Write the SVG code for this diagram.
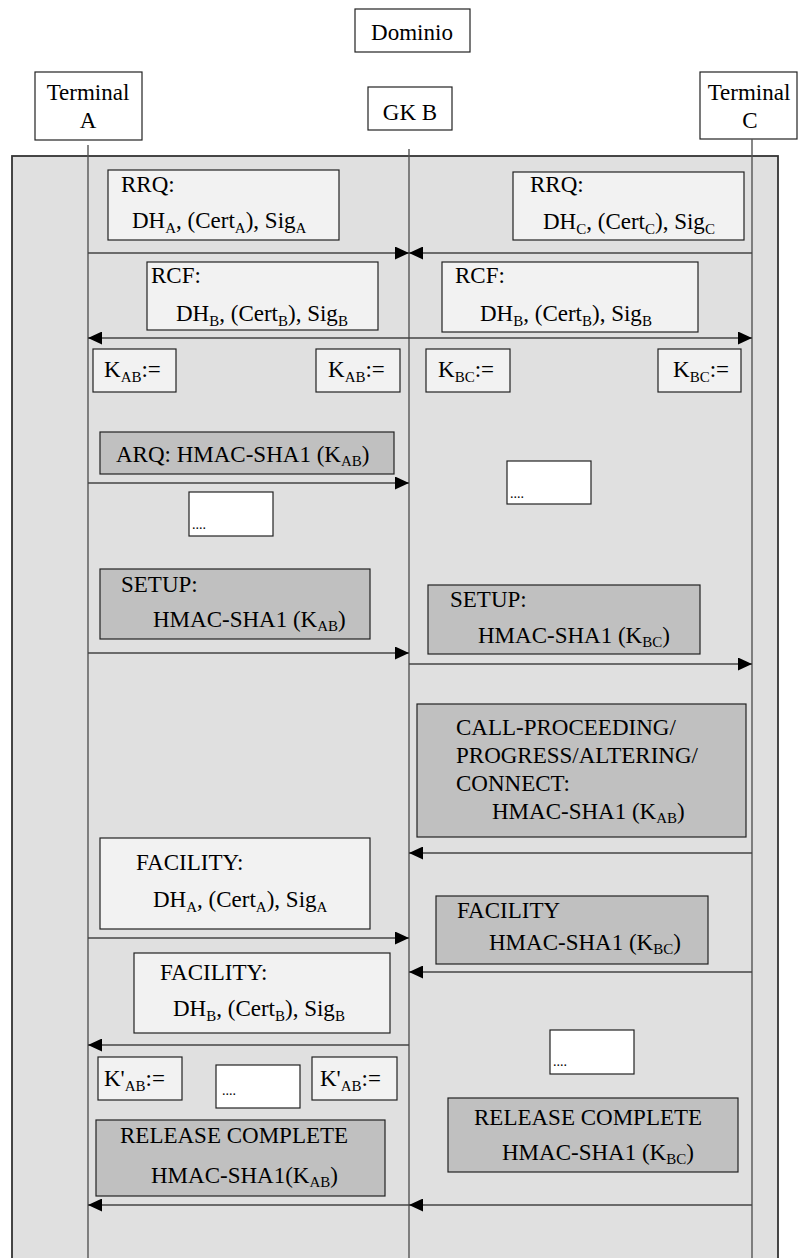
<svg xmlns="http://www.w3.org/2000/svg" width="798" height="1258" viewBox="0 0 798 1258" font-family="'Liberation Serif', Tinos, 'Times New Roman', 'DejaVu Serif', serif">
<style>
text{font-family:'Liberation Serif',Tinos,'Times New Roman','DejaVu Serif',serif;font-size:23px;fill:#000}
.s{font-size:15px}
.d{font-size:14px}
.c{text-anchor:middle}
.hdr{fill:#fff;stroke:#222;stroke-width:1.2}
.lt{fill:#f2f2f2;stroke:#222;stroke-width:1.2}
.dk{fill:#c0c0c0;stroke:#222;stroke-width:1.2}
.wh{fill:#fff;stroke:#222;stroke-width:1.2}
.life{stroke:#555;stroke-width:1.4;fill:none}
.msg{stroke:#444;stroke-width:1.4;fill:none;marker-end:url(#ah)}
</style>
<defs>
<marker id="ah" markerUnits="userSpaceOnUse" markerWidth="14" markerHeight="13" refX="14" refY="6.5" orient="auto">
<path d="M0,0 L14,6.5 L0,13 z" fill="#000"/>
</marker>
</defs>

<rect id="panel" x="12" y="156" width="766" height="1120" fill="#e0e0e0" stroke="#333" stroke-width="1.8"/>

<g id="dominio"><rect class="hdr" x="355" y="9" width="115" height="43"/><text class="c" x="412" y="40">Dominio</text></g>
<g id="terminalA"><rect class="hdr" x="35" y="72" width="107" height="68"/><text class="c" x="88" y="100">Terminal</text><text class="c" x="88" y="128">A</text></g>
<g id="gkB"><rect class="hdr" x="368" y="87" width="84" height="43"/><text class="c" x="410" y="120">GK B</text></g>
<g id="terminalC"><rect class="hdr" x="700" y="72" width="97" height="67"/><text class="c" x="749" y="100">Terminal</text><text class="c" x="750" y="128">C</text></g>

<g id="lifelines">
<line class="life" x1="88" y1="145" x2="88" y2="1258"/>
<line class="life" x1="409" y1="149" x2="409" y2="1258"/>
<line class="life" x1="752" y1="139" x2="752" y2="1258"/>
</g>

<g id="rrqA"><rect class="lt" x="108" y="170" width="231" height="70"/><text x="121" y="192">RRQ:</text><text x="132" y="228">DH<tspan class="s" dy="5">A</tspan><tspan dy="-5">, (Cert</tspan><tspan class="s" dy="5">A</tspan><tspan dy="-5">), Sig</tspan><tspan class="s" dy="5">A</tspan></text></g>
<g id="rrqC"><rect class="lt" x="513" y="172" width="231" height="68"/><text x="530" y="192">RRQ:</text><text x="543" y="229">DH<tspan class="s" dy="5">C</tspan><tspan dy="-5">, (Cert</tspan><tspan class="s" dy="5">C</tspan><tspan dy="-5">), Sig</tspan><tspan class="s" dy="5">C</tspan></text></g>
<g id="rcfA"><rect class="lt" x="147" y="262" width="231" height="68"/><text x="151" y="283">RCF:</text><text x="176" y="321">DH<tspan class="s" dy="5">B</tspan><tspan dy="-5">, (Cert</tspan><tspan class="s" dy="5">B</tspan><tspan dy="-5">), Sig</tspan><tspan class="s" dy="5">B</tspan></text></g>
<g id="rcfC"><rect class="lt" x="442" y="262" width="256" height="70"/><text x="455" y="283">RCF:</text><text x="480" y="321">DH<tspan class="s" dy="5">B</tspan><tspan dy="-5">, (Cert</tspan><tspan class="s" dy="5">B</tspan><tspan dy="-5">), Sig</tspan><tspan class="s" dy="5">B</tspan></text></g>

<g id="kab1"><rect class="lt" x="93" y="349" width="83" height="43"/><text x="104" y="377">K<tspan class="s" dy="5">AB</tspan><tspan dy="-5">:=</tspan></text></g>
<g id="kab2"><rect class="lt" x="316" y="349" width="84" height="43"/><text x="328" y="377">K<tspan class="s" dy="5">AB</tspan><tspan dy="-5">:=</tspan></text></g>
<g id="kbc1"><rect class="lt" x="426" y="349" width="84" height="43"/><text x="438" y="377">K<tspan class="s" dy="5">BC</tspan><tspan dy="-5">:=</tspan></text></g>
<g id="kbc2"><rect class="lt" x="658" y="349" width="83" height="43"/><text x="673" y="377">K<tspan class="s" dy="5">BC</tspan><tspan dy="-5">:=</tspan></text></g>

<g id="arq"><rect class="dk" x="100" y="432" width="294" height="42"/><text x="116" y="462">ARQ: HMAC-SHA1 (K<tspan class="s" dy="4">AB</tspan><tspan dy="-4">)</tspan></text></g>
<g id="dotsR1"><rect class="wh" x="507" y="461" width="84" height="43"/><text class="d" x="510" y="498">....</text></g>
<g id="dotsL1"><rect class="wh" x="189" y="492" width="84" height="44"/><text class="d" x="192" y="529">....</text></g>

<g id="setupA"><rect class="dk" x="100" y="569" width="270" height="70"/><text x="121" y="592">SETUP:</text><text x="153" y="627">HMAC-SHA1 (K<tspan class="s" dy="4">AB</tspan><tspan dy="-4">)</tspan></text></g>
<g id="setupC"><rect class="dk" x="428" y="585" width="272" height="69"/><text x="450" y="607">SETUP:</text><text x="478" y="643">HMAC-SHA1 (K<tspan class="s" dy="4">BC</tspan><tspan dy="-4">)</tspan></text></g>

<g id="callproc"><rect class="dk" x="417" y="704" width="329" height="133"/><text x="456" y="735">CALL-PROCEEDING/</text><text x="456" y="763">PROGRESS/ALTERING/</text><text x="456" y="791">CONNECT:</text><text x="492" y="819">HMAC-SHA1 (K<tspan class="s" dy="4">AB</tspan><tspan dy="-4">)</tspan></text></g>

<g id="facilityA1"><rect class="lt" x="100" y="838" width="270" height="91"/><text x="136" y="870">FACILITY:</text><text x="153" y="907">DH<tspan class="s" dy="5">A</tspan><tspan dy="-5">, (Cert</tspan><tspan class="s" dy="5">A</tspan><tspan dy="-5">), Sig</tspan><tspan class="s" dy="5">A</tspan></text></g>
<g id="facilityC"><rect class="dk" x="436" y="896" width="272" height="68"/><text x="457" y="918">FACILITY</text><text x="489" y="950">HMAC-SHA1 (K<tspan class="s" dy="4">BC</tspan><tspan dy="-4">)</tspan></text></g>
<g id="facilityA2"><rect class="lt" x="134" y="953" width="256" height="80"/><text x="160" y="980">FACILITY:</text><text x="173" y="1016">DH<tspan class="s" dy="5">B</tspan><tspan dy="-5">, (Cert</tspan><tspan class="s" dy="5">B</tspan><tspan dy="-5">), Sig</tspan><tspan class="s" dy="5">B</tspan></text></g>

<g id="dotsR2"><rect class="wh" x="550" y="1030" width="84" height="44"/><text class="d" x="553" y="1066">....</text></g>
<g id="kpab1"><rect class="lt" x="98" y="1057" width="84" height="43"/><text x="104" y="1086">K'<tspan class="s" dy="5">AB</tspan><tspan dy="-5">:=</tspan></text></g>
<g id="dotsM"><rect class="wh" x="216" y="1065" width="84" height="43"/><text class="d" x="222" y="1095">....</text></g>
<g id="kpab2"><rect class="lt" x="312" y="1057" width="85" height="43"/><text x="320" y="1086">K'<tspan class="s" dy="5">AB</tspan><tspan dy="-5">:=</tspan></text></g>

<g id="releaseC"><rect class="dk" x="448" y="1098" width="290" height="74"/><text x="474" y="1125">RELEASE COMPLETE</text><text x="502" y="1160">HMAC-SHA1 (K<tspan class="s" dy="4">BC</tspan><tspan dy="-4">)</tspan></text></g>
<g id="releaseA"><rect class="dk" x="96" y="1120" width="289" height="76"/><text x="120" y="1143">RELEASE COMPLETE</text><text x="151" y="1183">HMAC-SHA1(K<tspan class="s" dy="4">AB</tspan><tspan dy="-4">)</tspan></text></g>

<g id="connectors">
<line class="msg" x1="88" y1="253" x2="409" y2="253"/>
<line class="msg" x1="752" y1="253" x2="409" y2="253"/>
<line class="msg" x1="409" y1="338" x2="88" y2="338"/>
<line class="msg" x1="409" y1="338" x2="752" y2="338"/>
<line class="msg" x1="88" y1="483" x2="409" y2="483"/>
<line class="msg" x1="88" y1="653" x2="409" y2="653"/>
<line class="msg" x1="409" y1="664" x2="752" y2="664"/>
<line class="msg" x1="752" y1="853" x2="409" y2="853"/>
<line class="msg" x1="88" y1="938" x2="409" y2="938"/>
<line class="msg" x1="752" y1="972" x2="409" y2="972"/>
<line class="msg" x1="409" y1="1045" x2="88" y2="1045"/>
<line class="msg" x1="409" y1="1205" x2="88" y2="1205"/>
<line class="msg" x1="752" y1="1205" x2="409" y2="1205"/>
</g>
</svg>
